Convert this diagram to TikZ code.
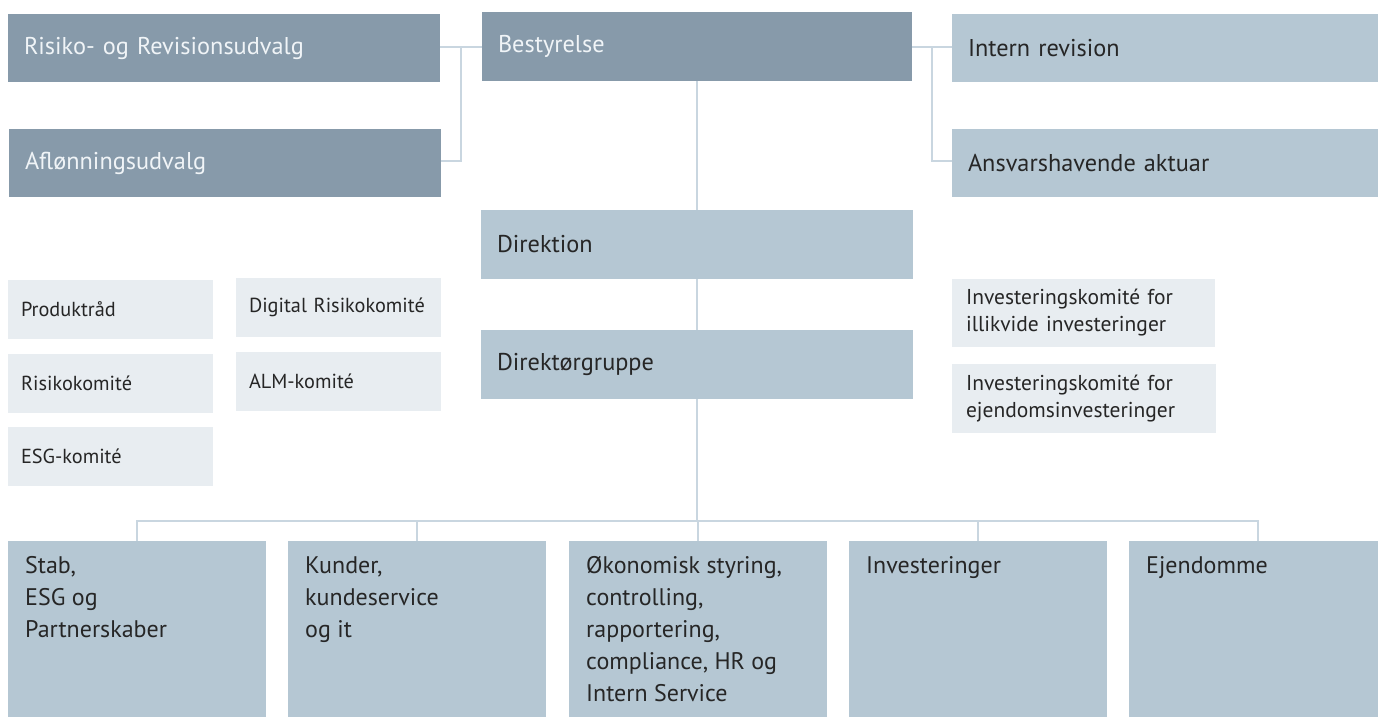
\documentclass[tikz,border=0pt]{standalone}
\usepackage{fontspec}
\setmainfont{PT Sans}
\usetikzlibrary{calc}
\definecolor{darkbox}{HTML}{879AAA}
\definecolor{lightbox}{HTML}{B5C7D3}
\definecolor{palebox}{HTML}{E8EDF1}
\definecolor{linec}{HTML}{C9D6E0}
\definecolor{ink}{HTML}{262626}
\definecolor{lightink}{HTML}{F0F4F7}
\begin{document}
\begin{tikzpicture}[x=1pt,y=-1pt,
  basebox/.style={anchor=north west, inner ysep=0pt, outer sep=0pt, align=left},
  bigbox/.style={basebox, inner xsep=16pt, font=\fontsize{24.3}{28}\selectfont},
  darkb/.style={bigbox, fill=darkbox, text=lightink},
  lightb/.style={bigbox, fill=lightbox, text=ink},
  smallb/.style={basebox, inner xsep=13pt, fill=palebox, text=ink, font=\fontsize{20.3}{27}\selectfont},
  smallr/.style={smallb, inner xsep=14pt, font=\fontsize{21.5}{27}\selectfont},
  unitb/.style={anchor=north west, inner sep=0pt, outer sep=0pt, fill=lightbox, minimum width=258pt, minimum height=180pt},
  unittext/.style={anchor=base west, inner sep=0pt, text=ink, font=\fontsize{24}{32}\selectfont},
  conn/.style={draw=linec, line width=2pt}]
\useasboundingbox (0,0) rectangle (1378,717);
\clip (0,0) rectangle (1378,717);
% top row
\node[darkb, minimum width=432pt, minimum height=68pt, text width=400pt] (risiko) at (8,14) {Risiko- og Revisionsudvalg};
\node[darkb, minimum width=430pt, minimum height=69pt, text width=398pt] (best) at (482,12) {Bestyrelse};
\node[lightb, minimum width=430pt, minimum height=68pt, text width=398pt] (intern) at (952,14) {Intern revision};
\node[darkb, minimum width=432pt, minimum height=68pt, text width=400pt] (afl) at (9,129) {Aflønningsudvalg};
\node[lightb, minimum width=430pt, minimum height=68pt, text width=398pt] (ansvar) at (952,129) {Ansvarshavende aktuar};
% management
\node[lightb, minimum width=432pt, minimum height=69pt, text width=400pt] (direk) at (481,210) {Direktion};
\node[lightb, minimum width=432pt, minimum height=69pt, text width=400pt] (dgrp) at (481,330) {Direktørgruppe};
% committees left
\node[smallb, minimum width=205pt, minimum height=59pt, text width=179pt] (produkt) at (8,280) {Produktråd};
\node[smallb, minimum width=205pt, minimum height=59pt, text width=179pt] (risk) at (8,354) {Risikokomité};
\node[smallb, minimum width=205pt, minimum height=59pt, text width=179pt] (esgk) at (8,427) {ESG-komité};
\node[smallb, minimum width=205pt, minimum height=59pt, text width=179pt] (digital) at (236,278) {\mbox{Digital Risikokomité}};
\node[smallb, minimum width=205pt, minimum height=59pt, text width=179pt] (alm) at (236,352) {ALM-komité};
% committees right
\node[smallr, minimum width=263pt, minimum height=68pt, text width=235pt] (illik) at (952,279) {Investeringskomité for\\illikvide investeringer};
\node[smallr, minimum width=264pt, minimum height=69pt, text width=236pt] (ejdk) at (952,364) {Investeringskomité for\\ejendomsinvesteringer};
% units
\node[unitb] (stab) at (8,541) {};
\node[unitb] (kunder) at (288,541) {};
\node[unitb] (okon) at (569,541) {};
\node[unitb] (invest) at (849,541) {};
\node[unitb] (ejend) at (1129,541) {};
\node[unittext] (stabt) at ($(stab.north west)+(17,32)$) {\parbox[t]{230pt}{\raggedright Stab,\\ESG og\\Partnerskaber}};
\node[unittext] (kundert) at ($(kunder.north west)+(17,32)$) {\parbox[t]{230pt}{\raggedright Kunder,\\kundeservice\\og it}};
\node[unittext] (okont) at ($(okon.north west)+(17,32)$) {\parbox[t]{230pt}{\raggedright Økonomisk styring,\\controlling,\\rapportering,\\compliance, HR og\\Intern Service}};
\node[unittext] (investt) at ($(invest.north west)+(17,32)$) {\parbox[t]{230pt}{\raggedright Investeringer}};
\node[unittext] (ejendt) at ($(ejend.north west)+(17,32)$) {\parbox[t]{230pt}{\raggedright Ejendomme}};
% connectors
\coordinate (lj) at (461,47);
\coordinate (rj) at (932,47);
\coordinate (busc) at (697,521);
\draw[conn] (best.west |- lj) -- (risiko.east |- lj);
\draw[conn] (afl.east |- 0,161) -| (lj);
\draw[conn] (best.east |- rj) -- (intern.west |- rj);
\draw[conn] (ansvar.west |- 0,161) -| (rj);
\draw[conn] (best.south) -- (direk.north);
\draw[conn] (direk.south) -- (dgrp.north);
\draw[conn] (dgrp.south) -- (busc);
\draw[conn] (stab.north) |- (busc) -| (ejend.north);
\draw[conn] (kunder.north) -- (kunder.north |- busc);
\draw[conn] (okon.north) -- (okon.north |- busc);
\draw[conn] (invest.north) -- (invest.north |- busc);
\end{tikzpicture}
\end{document}
